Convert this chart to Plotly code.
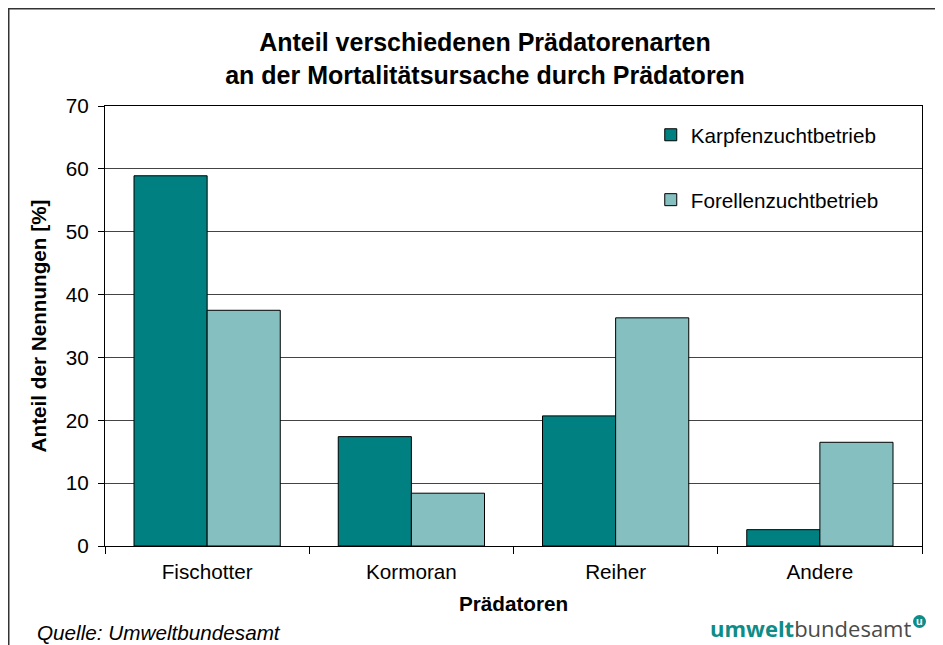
import plotly.graph_objects as go

categories = ["Fischotter", "Kormoran", "Reiher", "Andere"]
karpfen = [58.9, 17.4, 20.7, 2.6]
forellen = [37.5, 8.4, 36.3, 16.5]
series_names = ["Karpfenzuchtbetrieb", "Forellenzuchtbetrieb"]
y_ticks = [0, 10, 20, 30, 40, 50, 60, 70]

FONT = "Liberation Sans, Arial, sans-serif"
FS = 20.7

# figure is offset by the page's 8px body margin
W, H = 935, 637
L, R, T, B = 97, 21, 98, 99
PW, PH = W - L - R, H - T - B


def px(xr):
    return (xr - 8 - L) / PW


def py(yr):
    return (H - B - (yr - 8)) / PH


fig = go.Figure()
fig.add_trace(go.Bar(x=categories, y=karpfen, name=series_names[0],
                     marker=dict(color="#008080", line=dict(color="#000000", width=1)),
                     legendgroup="a"))
fig.add_trace(go.Bar(x=categories, y=forellen, name=series_names[1],
                     marker=dict(color="#85BFBF", line=dict(color="#000000", width=1)),
                     legendgroup="b"))

fig.update_layout(
    width=W, height=H,
    margin=dict(l=L, r=R, t=T, b=B),
    paper_bgcolor="white", plot_bgcolor="white",
    font=dict(family=FONT, size=FS, color="#000000"),
    barmode="group", bargap=0.284, bargroupgap=0,
    title=dict(text="<b>Anteil verschiedenen Prädatorenarten<br>an der Mortalitätsursache durch Prädatoren</b>",
               x=px(485), xref="paper", xanchor="center",
               y=1 - 43 / H, yref="container", yanchor="top",
               font=dict(family=FONT, size=25, color="#000000")),
    legend=dict(x=0.668, y=0.98, xanchor="left", yanchor="top",
                bgcolor="rgba(0,0,0,0)", traceorder="grouped", tracegroupgap=35,
                itemwidth=30, font=dict(family=FONT, size=FS)),
    xaxis=dict(
        tickson="boundaries", ticks="outside", ticklen=7, tickcolor="#000000",
        ticklabelstandoff=7,
        showline=True, linecolor="#000000", linewidth=1, mirror=True,
        showgrid=False,
        title=dict(text="<b>Prädatoren</b>", font=dict(family=FONT, size=FS), standoff=14),
    ),
    yaxis=dict(
        range=[0, 70], tickvals=y_ticks, ticks="outside", ticklen=6, tickcolor="#000000",
        ticklabelstandoff=5,
        showline=True, linecolor="#000000", linewidth=1, mirror=True,
        showgrid=True, gridcolor="#444444", gridwidth=1, zeroline=False,
        title=dict(text="<b>Anteil der Nennungen [%]</b>", font=dict(family=FONT, size=FS), standoff=13),
    ),
    shapes=[
        dict(type="rect", xref="paper", yref="paper",
             x0=(0.75 - L) / PW, x1=(W + 20 - L) / PW, y0=-(B + 20) / PH, y1=(H - B - 0.75) / PH,
             line=dict(color="#333333", width=1.5), fillcolor="rgba(0,0,0,0)", layer="below"),
        dict(type="circle", xref="paper", yref="paper",
             x0=px(913), x1=px(926), y0=py(628), y1=py(615),
             line=dict(width=0), fillcolor="#0E8C87"),
    ],
    annotations=[
        dict(text="<i>Quelle: Umweltbundesamt</i>", xref="paper", yref="paper",
             x=px(35), y=py(632), xanchor="left", yanchor="middle",
             showarrow=False, font=dict(family=FONT, size=FS, color="#000000")),
        dict(text="<b><span style='color:#0E8C87'>umwelt</span></b><span style='color:#4a4a4a'>bundesamt</span>",
             xref="paper", yref="paper",
             x=px(913), y=py(628), xanchor="right", yanchor="middle",
             showarrow=False, font=dict(family="Open Sans, Liberation Sans, sans-serif", size=22)),
        dict(text="<b>u</b>", xref="paper", yref="paper",
             x=px(919.5), y=py(621), xanchor="center", yanchor="middle",
             showarrow=False, font=dict(family=FONT, size=11, color="white")),
    ],
)

fig.write_html("out.html")
